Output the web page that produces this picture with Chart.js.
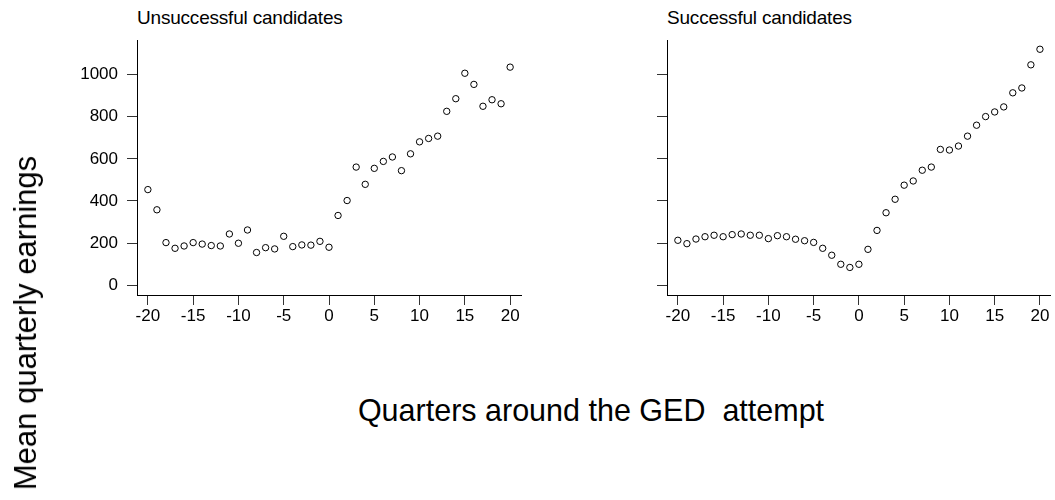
<!DOCTYPE html>
<html>
<head>
<meta charset="utf-8">
<script src="https://cdn.jsdelivr.net/npm/chart.js@4/dist/chart.umd.min.js"></script>
<style>
  html, body { margin:0; padding:0; background:#fff; }
  #wrap { position:relative; width:1055px; height:500px; overflow:hidden; font-family:"Liberation Sans", Arial, sans-serif; color:#000; }
  .cv { position:absolute; }
  .ptitle { position:absolute; font-size:19px; line-height:19px; white-space:nowrap; letter-spacing:-0.2px; }
  #xtitle { position:absolute; left:591px; top:395px; transform:translateX(-50%); font-size:30.5px; line-height:30px; white-space:pre; }
  #ytitle { position:absolute; left:26px; top:323px; transform:translate(-50%,-50%) rotate(-90deg); font-size:31px; line-height:30px; white-space:nowrap; }
</style>
</head>
<body>
<div id="wrap">
  <div class="ptitle" style="left:137px; top:8px;">Unsuccessful candidates</div>
  <div class="ptitle" style="left:667px; top:8px;">Successful candidates</div>
  <div class="cv" style="left:0; top:0; width:530px; height:340px;"><canvas id="c1"></canvas></div>
  <div class="cv" style="left:530px; top:0; width:525px; height:340px;"><canvas id="c2"></canvas></div>
  <div id="xtitle">Quarters around the GED  attempt</div>
  <div id="ytitle">Mean quarterly earnings</div>
</div>
<script>
const quarters = [-20,-19,-18,-17,-16,-15,-14,-13,-12,-11,-10,-9,-8,-7,-6,-5,-4,-3,-2,-1,0,1,2,3,4,5,6,7,8,9,10,11,12,13,14,15,16,17,18,19,20];
const unsuccessful = [454,358,202,175,186,202,195,188,186,243,199,262,155,178,172,232,183,191,190,208,180,331,402,561,479,555,588,609,544,624,681,697,708,826,886,1007,954,850,881,862,1036];
const successful = [213,197,219,230,237,230,240,243,237,237,221,235,230,218,211,203,175,142,99,84,99,170,260,344,408,475,495,546,561,645,642,661,708,760,801,823,847,914,937,1047,1121];
const xTicks = [-20,-15,-10,-5,0,5,10,15,20];
const yTicks = [0,200,400,600,800,1000];

function makeChart(id, values, showYLabels, padRight) {
  const pts = quarters.map((q, i) => ({ x: q, y: values[i] }));
  return new Chart(document.getElementById(id), {
    type: 'scatter',
    data: { datasets: [{ data: pts, pointRadius: 3.2, pointHoverRadius: 3.2, pointBorderWidth: 1,
      pointBorderColor: '#000', pointBackgroundColor: 'rgba(0,0,0,0)', borderColor:'#000' }] },
    options: {
      responsive: true, maintainAspectRatio: false, animation: false,
      layout: { padding: { top: 40, right: padRight, bottom: 0, left: 0 } },
      plugins: { legend: { display: false }, tooltip: { enabled: false }, title: { display: false } },
      scales: {
        x: {
          type: 'linear', min: -21.2, max: 21.2,
          afterBuildTicks: s => { s.ticks = xTicks.map(v => ({ value: v })); },
          afterFit: s => { s.height = 45; },
          grid: { drawOnChartArea: false, drawTicks: true, tickLength: 10, color: '#333' },
          border: { display: true, color: '#000', width: 1 },
          ticks: { color: '#000', padding: 1, maxRotation: 0, autoSkip: false, callback: v => String(v),
            font: { family: '"Liberation Sans", Arial, sans-serif', size: 17 } }
        },
        y: {
          type: 'linear', min: -47, max: 1165,
          afterBuildTicks: s => { s.ticks = yTicks.map(v => ({ value: v })); },
          afterFit: s => { s.width = 137; },
          grid: { drawOnChartArea: false, drawTicks: true, tickLength: 10, color: '#333' },
          border: { display: true, color: '#000', width: 1 },
          ticks: { color: showYLabels ? '#000' : 'rgba(0,0,0,0)', padding: 9, autoSkip: false, callback: v => String(v),
            font: { family: '"Liberation Sans", Arial, sans-serif', size: 17 } }
        }
      }
    }
  });
}
makeChart('c1', unsuccessful, true, 9);
makeChart('c2', successful, false, 4);
</script>
</body>
</html>
